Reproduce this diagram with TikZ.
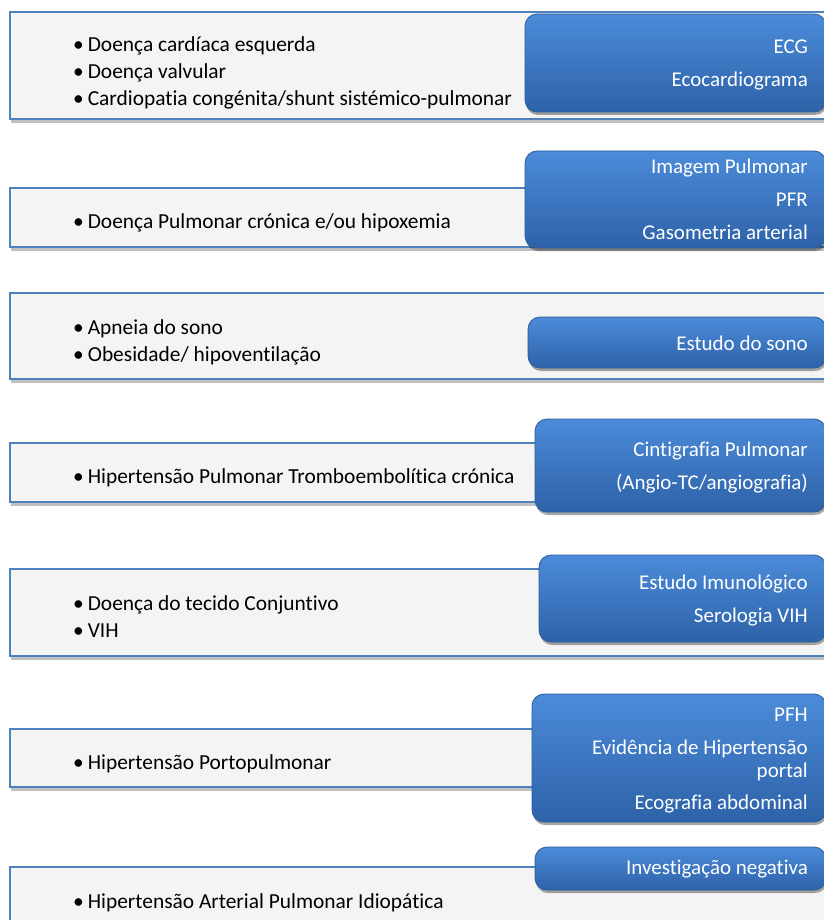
\documentclass[tikz,border=0pt]{standalone}
\usepackage{fontspec}
\setmainfont{Carlito}[Ligatures=NoCommon]
\usetikzlibrary{shadows}

\definecolor{causeedge}{HTML}{4F81BD}
\definecolor{causefill}{HTML}{F4F4F4}
\definecolor{examtop}{HTML}{4C8BD9}
\definecolor{exambot}{HTML}{2D62A8}
\definecolor{examedge}{HTML}{2B5C9C}
\newcommand{\itembullet}{\textbullet\hspace{4pt}}

\begin{document}
\begin{tikzpicture}[x=1pt, y=-1pt,
    cause/.style={draw=causeedge, line width=1.6pt, fill=causefill,
        drop shadow={shadow xshift=1pt, shadow yshift=-4pt, opacity=0.25, fill=black}},
    exam/.style={draw=examedge, line width=0.8pt, rounded corners=12pt,
        top color=examtop, bottom color=exambot,
        drop shadow={shadow xshift=1pt, shadow yshift=-3pt, opacity=0.35, fill=black}},
    item/.style={anchor=base west, inner sep=0pt, font=\fontsize{21.4}{27}\selectfont},
    check/.style={anchor=base east, inner sep=0pt, text=white, font=\fontsize{21}{27}\selectfont}]
    % Frame
    \path[fill=white, use as bounding box] (0,0) rectangle (823,920);

    % Left heart disease
    \draw[cause] (10,12) rectangle (830,119);
    \draw[exam] (525,14) rectangle (826,112);
    \node[item] (heart1) at (73,52) {\itembullet Doença cardíaca esquerda};
    \node[item] (heart2) at (73,79) {\itembullet Doença valvular};
    \node[item] (heart3) at (73,106) {\itembullet Cardiopatia congénita/shunt sistémico-pulmonar};
    \node[check] (ecg) at (808,54) {ECG};
    \node[check] (echo) at (808,87) {Ecocardiograma};

    % Lung disease
    \draw[cause] (10,188) rectangle (830,247);
    \draw[exam] (525,151) rectangle (826,248);
    \node[item] (lung) at (73,228) {\itembullet Doença Pulmonar crónica e/ou hipoxemia};
    \node[check] (imaging) at (808,174) {Imagem Pulmonar};
    \node[check] (pft) at (808,206) {PFR};
    \node[check] (abg) at (808,239) {Gasometria arterial};

    % Sleep
    \draw[cause] (10,293) rectangle (830,379);
    \draw[exam] (528,317) rectangle (826,368);
    \node[item] (sleep1) at (73,334) {\itembullet Apneia do sono};
    \node[item] (sleep2) at (73,361) {\itembullet Obesidade/ hipoventilação};
    \node[check] (psg) at (808,350) {Estudo do sono};

    % Thromboembolic
    \draw[cause] (10,443) rectangle (830,502);
    \draw[exam] (535,419) rectangle (826,512);
    \node[item] (cteph) at (73,483) {\itembullet Hipertensão Pulmonar Tromboembolítica crónica};
    \node[check] (vq) at (808,456) {Cintigrafia Pulmonar};
    \node[check] (ctpa) at (808,489) {(Angio-TC/angiografia)};

    % Connective tissue / HIV
    \draw[cause] (10,569) rectangle (830,656);
    \draw[exam] (539,555) rectangle (826,642);
    \node[item] (ctd) at (73,610) {\itembullet Doença do tecido Conjuntivo};
    \node[item] (hiv) at (73,637) {\itembullet VIH};
    \node[check] (immuno) at (808,589) {Estudo Imunológico};
    \node[check] (serology) at (808,622) {Serologia VIH};

    % Portopulmonary
    \draw[cause] (10,729) rectangle (830,787);
    \draw[exam] (532,694) rectangle (826,822);
    \node[item] (porto) at (73,769) {\itembullet Hipertensão Portopulmonar};
    \node[check] (lft) at (808,721) {PFH};
    \node[check] (portal1) at (808,754) {Evidência de Hipertensão};
    \node[check] (portal2) at (808,777) {portal};
    \node[check] (us) at (808,809) {Ecografia abdominal};

    % Idiopathic
    \draw[cause] (10,867) rectangle (830,940);
    \draw[exam] (535,847) rectangle (826,890);
    \node[item] (ipah) at (73,908) {\itembullet Hipertensão Arterial Pulmonar Idiopática};
    \node[check] (negative) at (808,874) {Investigação negativa};
\end{tikzpicture}
\end{document}
